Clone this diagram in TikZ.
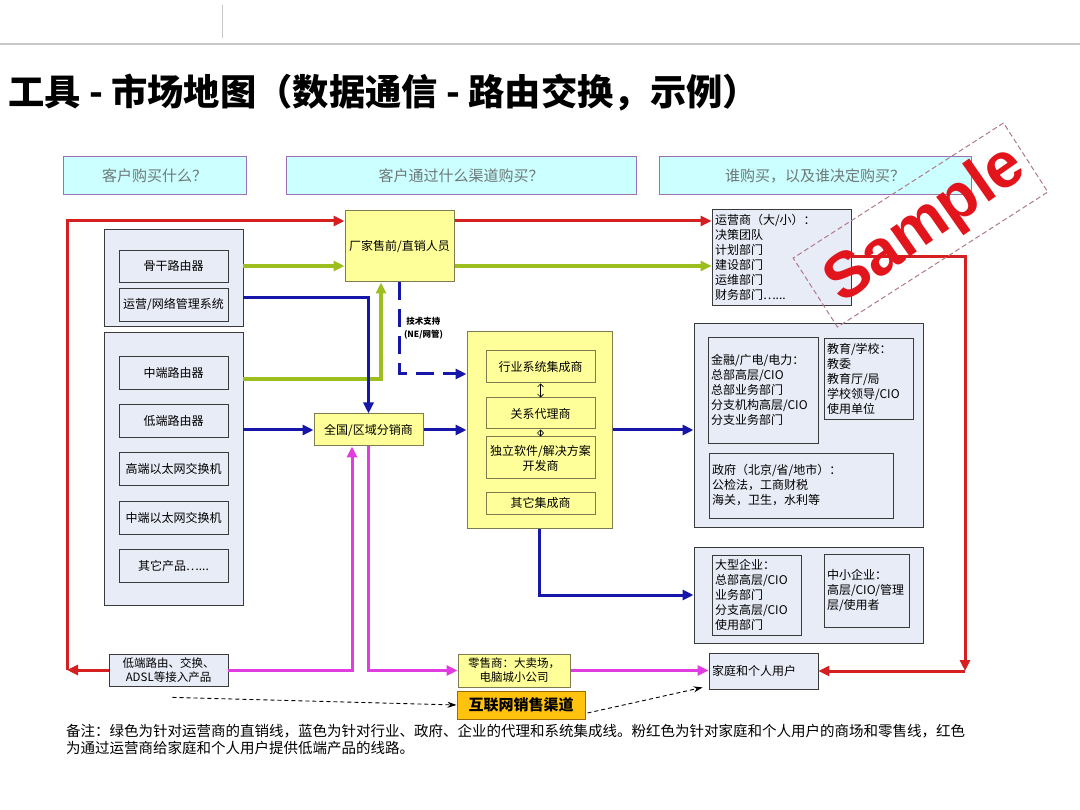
\documentclass[tikz,border=0pt]{standalone}
\usepackage{fontspec}
\setmainfont{Noto Sans CJK SC}
\newfontfamily\samplefont{Liberation Sans}
\usetikzlibrary{arrows.meta,calc}

\definecolor{askfill}{HTML}{CCFFFF}
\definecolor{askline}{HTML}{9A72B4}
\definecolor{asktext}{HTML}{6E7878}
\definecolor{panelfill}{HTML}{E8ECF6}
\definecolor{boxline}{HTML}{3A3A3A}
\definecolor{chanfill}{HTML}{FFFF99}
\definecolor{chanline}{HTML}{7C7C50}
\definecolor{webfill}{HTML}{FFC20E}
\definecolor{webline}{HTML}{9A6A00}
\definecolor{redc}{HTML}{D42020}
\definecolor{greenc}{HTML}{9CBE1E}
\definecolor{bluec}{HTML}{1616A8}
\definecolor{pinkc}{HTML}{E03CE0}
\definecolor{stampline}{HTML}{B07A8A}
\definecolor{samplered}{HTML}{E2141C}

\begin{document}
\begin{tikzpicture}[
    x=1pt, y=-1pt,
    >={Triangle[length=11pt, width=10pt]},
    every node/.style={font=\fontsize{12}{15}\selectfont, inner sep=3pt},
    ask/.style={draw=askline, fill=askfill, line width=1pt, text=asktext,
      font=\fontsize{15}{18}\selectfont, minimum height=38pt},
    panel/.style={draw=boxline, fill=panelfill, line width=1pt},
    item/.style={draw=boxline, fill=panelfill, line width=0.8pt,
      minimum width=109pt, minimum height=33pt, align=center},
    chan/.style={draw=chanline, fill=chanfill, line width=1pt, align=center},
    who/.style={draw=boxline, fill=panelfill, line width=0.8pt, align=left},
    redline/.style={draw=redc, line width=3pt},
    greenline/.style={draw=greenc, line width=4pt},
    blueline/.style={draw=bluec, line width=3pt},
    pinkline/.style={draw=pinkc, line width=3pt},
    tipline/.style={draw=black, line width=0.9pt, dash pattern=on 4pt off 3pt,
      -{Stealth[length=9pt, width=6pt]}}
  ]
  \path[use as bounding box, fill=white] (0,0) rectangle (1080,810);

  % Page head
  \draw[black!22, line width=2pt] (0,44) -- (1080,44);
  \draw[black!22, line width=1pt] (222,5) -- (222,38);
  \node[anchor=west, inner sep=0pt, font=\bfseries\fontsize{36.3}{40}\selectfont] (title) at (8,93)
    {工具 - 市场地图（数据通信 - 路由交换，示例）};

  % Questions
  \node[ask, minimum width=183pt] (q1) at (154.5,176) {客户购买什么？};
  \node[ask, minimum width=350pt] (q2) at (461,176) {客户通过什么渠道购买？};
  \node[ask, minimum width=312pt] (q3) at (815,176) {谁购买，以及谁决定购买？};

  % Products
  \node[panel, minimum width=139pt, minimum height=97pt] (ptop) at (173.5,278.5) {};
  \node[item, minimum height=32pt] (core) at (173.5,266) {骨干路由器};
  \node[item] (nms) at (173.5,304.5) {运营/网络管理系统};
  \node[panel, minimum width=139pt, minimum height=272pt] (pbot) at (173.5,469) {};
  \node[item] (midr) at (173.5,372.5) {中端路由器};
  \node[item] (lowr) at (173.5,420.5) {低端路由器};
  \node[item] (hsw) at (173.5,468.5) {高端以太网交换机};
  \node[item] (msw) at (173.5,517.5) {中端以太网交换机};
  \node[item] (other) at (173.5,565.5) {其它产品…...};
  \node[item, minimum width=119pt, minimum height=32pt, inner sep=1pt,
    font=\fontsize{11.5}{14}\selectfont] (lowacc) at (168.5,670) {低端路由、交换、\\ADSL等接入产品};

  % Channels
  \node[chan, minimum width=109pt, minimum height=71pt] (sales) at (399.5,246.5) {厂家售前/直销人员};
  \node[chan, minimum width=109pt, minimum height=32pt] (dist) at (368.5,430) {全国/区域分销商};
  \node[chan, minimum width=145pt, minimum height=196pt] (integ) at (539.5,430) {};
  \node[chan, minimum width=109pt, minimum height=32pt] (sysint) at (540.5,367) {行业系统集成商};
  \node[chan, minimum width=109pt, minimum height=31pt] (relag) at (540.5,413.5) {关系代理商};
  \node[chan, minimum width=109pt, minimum height=42pt, inner sep=1pt] (isv) at (540.5,458) {独立软件/解决方案\\开发商};
  \node[chan, minimum width=109pt, minimum height=22pt, inner sep=1pt] (othint) at (540.5,503) {其它集成商};
  \node[chan, minimum width=112pt, minimum height=33pt, inner sep=1pt,
    font=\fontsize{11.5}{14}\selectfont] (retail) at (514,670.5) {零售商：大卖场，\\电脑城小公司};
  \node[draw=webline, fill=webfill, line width=1pt, minimum width=128pt, minimum height=28pt,
    font=\bfseries\fontsize{15}{18}\selectfont] (web) at (521,705) {互联网销售渠道};

  % Buyers
  \node[who, text width=133pt, minimum height=96pt] (ops) at (781.5,257)
    {运营商（大/小）：\\决策团队\\计划部门\\建设部门\\运维部门\\财务部门…...};
  \node[panel, minimum width=229pt, minimum height=203pt] (pgov) at (808.5,425.5) {};
  \node[who, text width=104pt, minimum height=106pt] (fin) at (763,390)
    {金融/广电/电力：\\总部高层/CIO\\总部业务部门\\分支机构高层/CIO\\分支业务部门};
  \node[who, text width=83pt, minimum height=81pt] (edu) at (868.5,378.5)
    {教育/学校：\\教委\\教育厅/局\\学校领导/CIO\\使用单位};
  \node[who, text width=178pt, minimum height=65pt] (gov) at (801,485.5)
    {政府（北京/省/地市）：\\公检法，工商财税\\海关，卫生，水利等};
  \node[panel, minimum width=229pt, minimum height=96pt] (pent) at (808.5,595) {};
  \node[who, text width=83pt, minimum height=80pt] (big) at (756.5,595)
    {大型企业：\\总部高层/CIO\\业务部门\\分支高层/CIO\\使用部门};
  \node[who, text width=79pt, minimum height=73pt] (sme) at (866.5,590.5)
    {中小企业：\\高层/CIO/管理\\层/使用者};
  \node[who, text width=103pt, minimum height=36pt] (home) at (763.5,671) {家庭和个人用户};

  % Ports
  \coordinate (coreOut) at ($(core.east)+(15,0)$);
  \coordinate (nmsOut) at ($(nms.east)+(15,-6.5)$);
  \coordinate (midOut) at ($(midr.east)+(15,6.5)$);
  \coordinate (lowOut) at ($(lowr.east)+(15,9.5)$);
  \coordinate (salesL) at ($(sales.west)+(0,-25.5)$);
  \coordinate (salesR) at ($(sales.east)+(0,-25.5)$);
  \coordinate (salesG) at ($(sales.east)+(0,19.5)$);
  \coordinate (salesB) at ($(sales.south)+(-18.5,0)$);
  \coordinate (distB) at ($(dist.south)+(-16.5,0)$);
  \coordinate (integT) at ($(integ.west)+(0,-56)$);
  \coordinate (redL) at (67,670);
  \coordinate (redR) at (965,671);

  % Green: direct sales to operators
  \draw[greenline, ->] (coreOut) -- (coreOut -| sales.west);
  \draw[greenline, ->] (salesG) -- (salesG -| ops.west);
  \draw[greenline, ->] (midOut) -| (salesB);

  % Blue: agents and integrators
  \draw[blueline, ->] (nmsOut) -| (dist.north);
  \draw[blueline, ->] (lowOut) -- (dist.west);
  \draw[blueline, ->] (dist.east) -- (integ.west);
  \draw[blueline, ->] (integ.east) -- (integ.east -| pgov.west);
  \draw[blueline, ->] (integ.south) |- (pent.west);
  \draw[blueline, dash pattern=on 18pt off 9pt, ->] (sales.south) |- (integT)
    node[pos=0.25, right, align=center, font=\bfseries\fontsize{8.5}{13}\selectfont] (tech) {技术支持\\(NE/网管)};
  \draw[line width=0.6pt, {Straight Barb[length=3pt]}-{Straight Barb[length=3pt]}] (sysint.south) -- (relag.north);
  \draw[line width=0.6pt, {Straight Barb[length=3pt]}-{Straight Barb[length=3pt]}] (relag.south) -- (isv.north);

  % Pink: stores and retail
  \draw[pinkline, ->] (lowacc.east) -| (distB);
  \draw[pinkline, ->] (dist.south) |- (retail.west);
  \draw[pinkline, ->] (retail.east) -- (retail.east -| home.west);

  % Red: low end through operators
  \draw[redline, ->] (lowacc.west) -- (redL);
  \draw[redline, ->] (redL) |- (salesL);
  \draw[redline, ->] (salesR) -- (salesR -| ops.west);
  \draw[redline, ->] (ops.east) -| (redR);
  \draw[redline, ->] (redR) -- (home.east);

  % Web channel
  \draw[tipline] ($(lowacc.south)+(4,11)$) -- (web.west);
  \draw[tipline] ($(web.east)+(2,8)$) -- ($(home.south west)+(-6,-2)$);

  % Note
  \node[anchor=north west, align=left, inner sep=0pt, font=\fontsize{14.5}{17}\selectfont] (note) at (66,724)
    {备注：绿色为针对运营商的直销线，蓝色为针对行业、政府、企业的代理和系统集成线。粉红色为针对家庭和个人用户的商场和零售线，红色\\为通过运营商给家庭和个人用户提供低端产品的线路。};

  % Stamp
  \node[draw=stampline, line width=1pt, dash pattern=on 5pt off 3pt, minimum width=250pt,
    minimum height=82pt, rotate=32.7] (stamp) at (920.5,225) {};
  \node[text=samplered, rotate=35, inner sep=0pt,
    font=\samplefont\bfseries\fontsize{64}{64}\selectfont] (sample) at (926,226) {Sample};
\end{tikzpicture}
\end{document}
